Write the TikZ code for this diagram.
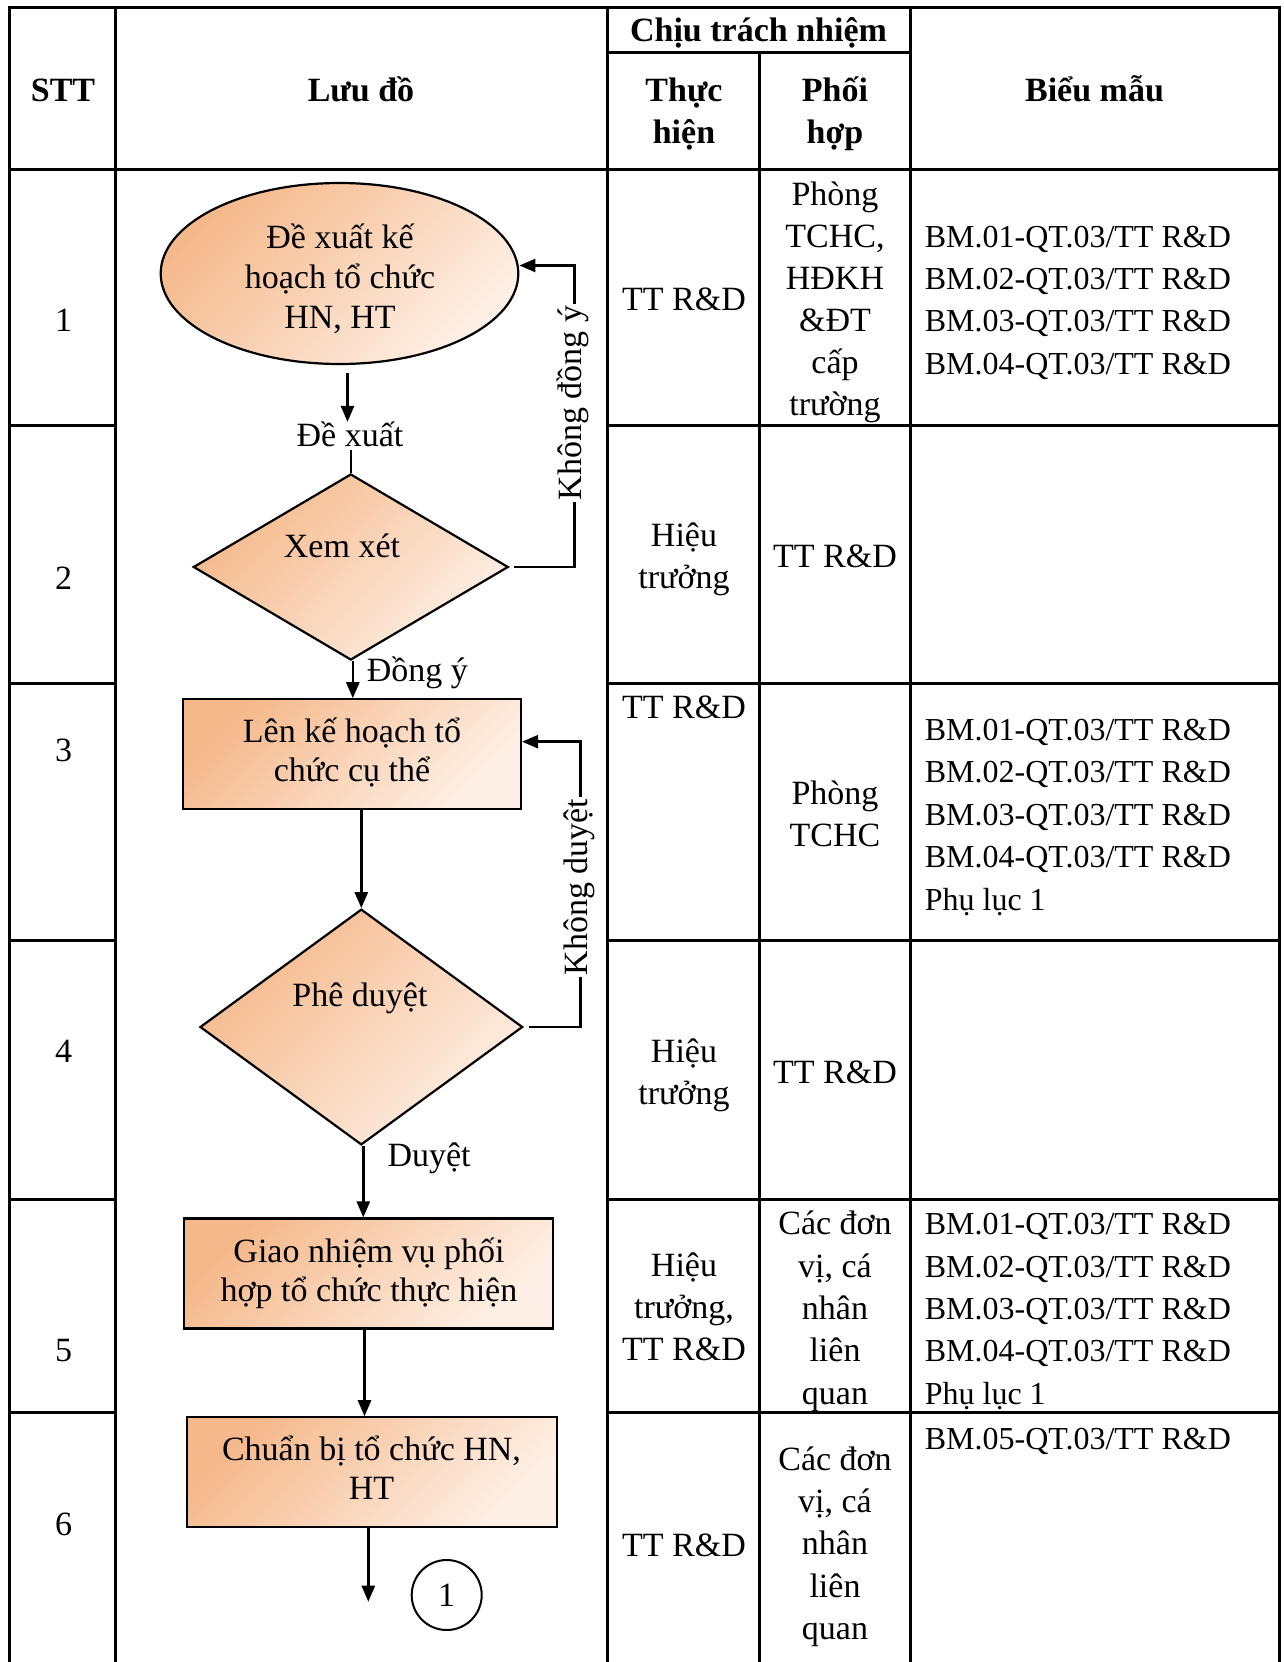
\documentclass[tikz,border=0pt]{standalone}
\usepackage{fontspec}
\setmainfont{Liberation Serif}
\usetikzlibrary{shapes.geometric, arrows.meta}
\definecolor{orA}{RGB}{245,184,138}
\definecolor{orB}{RGB}{254,240,230}
\newcommand\celllines[6]{\foreach \cl [count=\ci] in {#6} {\node[#2] (#1-\ci) at (#3, {#4+(\ci-1)*#5}) {\cl};}}
\begin{document}
\begin{tikzpicture}[x=1pt, y=-1pt,
  txt/.style={inner sep=0pt, font=\fontsize{34}{40}\selectfont},
  ctr/.style={txt, anchor=base},
  bm/.style={inner sep=0pt, font=\fontsize{32}{40}\selectfont, anchor=base west},
  hdr/.style={inner sep=0pt, font=\fontsize{34}{40}\selectfont\bfseries, anchor=base},
  grid/.style={line width=3pt},
  shapebox/.style={draw, line width=2.2pt, inner sep=0pt, top color=orA, bottom color=orB, shading angle=45},
  arr/.style={line width=2.6pt, -{Triangle[length=16pt,width=13pt]}},
  conn/.style={line width=2.6pt},
  vlabel/.style={txt, rotate=90, fill=white, inner sep=2pt}]
\useasboundingbox (0,0) rectangle (1283,1662);
\fill[white] (0,0) rectangle (1283,1662);
% ---------- table grid ----------
\draw[grid] (9.5,1662) -- (9.5,8) -- (1279,8) -- (1279,1662);
\draw[grid] (115,8) -- (115,1662);
\draw[grid] (607,8) -- (607,1662);
\draw[grid] (910,8) -- (910,1662);
\draw[grid] (759,53) -- (759,1662);
\draw[grid] (607,53) -- (910,53);
\draw[grid] (9.5,169) -- (1279,169);
\foreach \ry in {425.5,683.5,940.5,1199,1412.5} {
  \draw[grid] (9.5,\ry) -- (115,\ry);
  \draw[grid] (607,\ry) -- (1279,\ry);
}
% ---------- header ----------
\node[hdr] (hChiu) at (758.5,42) {Chịu trách nhiệm};
\node[hdr] (hSTT) at (63,101) {STT};
\node[hdr] (hLuu) at (361,101) {Lưu đồ};
\celllines{hTH}{hdr}{684}{101}{42.4}{Thực, hiện}
\celllines{hPH}{hdr}{835}{101}{42.4}{Phối, hợp}
\node[hdr] (hBM) at (1094.5,101) {Biểu mẫu};
% ---------- STT ----------
\node[ctr] (s1) at (63.6,331.5) {1};
\node[ctr] (s2) at (63.6,589.5) {2};
\node[ctr] (s3) at (63.6,761) {3};
\node[ctr] (s4) at (63.6,1062) {4};
\node[ctr] (s5) at (63.6,1361.5) {5};
\node[ctr] (s6) at (63.6,1535) {6};
% ---------- Thuc hien ----------
\node[ctr] (th1) at (684,310.7) {TT R\&D};
\celllines{th2}{ctr}{684}{546.5}{42.4}{Hiệu, trưởng}
\node[ctr] (th3) at (684,718) {TT R\&D};
\celllines{th4}{ctr}{684}{1062}{42.4}{Hiệu, trưởng}
\celllines{th5}{ctr}{684}{1276}{42.4}{Hiệu, {trưởng,}, TT R\&D}
\node[ctr] (th6) at (684,1556) {TT R\&D};
% ---------- Phoi hop ----------
\celllines{ph1}{ctr}{835}{205}{42}{Phòng, {TCHC,}, HĐKH, \&ĐT, cấp, trường}
\node[ctr] (ph2) at (835,567.7) {TT R\&D};
\celllines{ph3}{ctr}{835}{804}{42.4}{Phòng, TCHC}
\node[ctr] (ph4) at (835,1083) {TT R\&D};
\celllines{ph5}{ctr}{835}{1234.6}{42.4}{Các đơn, {vị, cá}, nhân, liên, quan}
\celllines{ph6}{ctr}{835}{1470}{42.4}{Các đơn, {vị, cá}, nhân, liên, quan}
% ---------- Bieu mau ----------
\celllines{bm1}{bm}{924.6}{247}{42.4}{BM.01-QT.03/TT R\&D, BM.02-QT.03/TT R\&D, BM.03-QT.03/TT R\&D, BM.04-QT.03/TT R\&D}
\celllines{bm3}{bm}{924.6}{740.5}{42.4}{BM.01-QT.03/TT R\&D, BM.02-QT.03/TT R\&D, BM.03-QT.03/TT R\&D, BM.04-QT.03/TT R\&D, Phụ lục 1}
\celllines{bm5}{bm}{924.6}{1234.6}{42.4}{BM.01-QT.03/TT R\&D, BM.02-QT.03/TT R\&D, BM.03-QT.03/TT R\&D, BM.04-QT.03/TT R\&D, Phụ lục 1}
\node[bm] (bm6) at (924.6,1449) {BM.05-QT.03/TT R\&D};
% ---------- flowchart shapes ----------
\node[shapebox, ellipse, minimum width=357.6pt, minimum height=181pt] (e1) at (339.5,273.5) {};
\node[shapebox, diamond, minimum width=315pt, minimum height=186pt] (d1) at (350.8,567) {};
\node[shapebox, rectangle, minimum width=338.3pt, minimum height=110pt] (r3) at (351.8,754.3) {};
\node[shapebox, diamond, minimum width=322.7pt, minimum height=235.7pt] (d2) at (361.3,1027) {};
\node[shapebox, rectangle, minimum width=369.5pt, minimum height=110pt] (r5) at (368.5,1273.5) {};
\node[shapebox, rectangle, minimum width=370pt, minimum height=110pt] (r6) at (371.7,1472.3) {};
\node[txt, draw, circle, line width=2pt, minimum size=70pt] (c1) at (446.7,1595) {1};
\coordinate (fend) at (368.3,1601.7);
% ---------- texts in shapes ----------
\celllines{e1t}{ctr}{340}{248}{40}{Đề xuất kế, hoạch tổ chức, {HN, HT}}
\node[ctr] (d1t) at (342,557) {Xem xét};
\celllines{r3t}{ctr}{352}{742.7}{38.5}{Lên kế hoạch tổ, chức cụ thể}
\node[ctr] (d2t) at (360,1006.7) {Phê duyệt};
\celllines{r5t}{ctr}{369}{1262}{39}{Giao nhiệm vụ phối, hợp tổ chức thực hiện}
\celllines{r6t}{ctr}{371.5}{1460}{39.3}{{Chuẩn bị tổ chức HN,}, HT}
\node[ctr] (dx) at (350,446.7) {Đề xuất};
\node[txt, anchor=base west] (dy) at (366.7,681.7) {Đồng ý};
\node[txt, anchor=base west] (du) at (387.3,1166.7) {Duyệt};
% ---------- connectors ----------
\draw[arr, shorten <=8pt] ([xshift=8pt]e1.south) -- ([xshift=8pt]e1.south |- dx.north);
\draw[conn, shorten <=3pt] (dx.south -| d1.north) -- (d1.north);
\draw[arr] ([xshift=2pt]d1.south) -- ([xshift=2pt]d1.south |- r3.north);
\draw[arr] (d2.north |- r3.south) -- (d2.north);
\draw[arr] ([xshift=2pt]d2.south) -- ([xshift=2pt]d2.south |- r5.north);
\draw[arr] ([xshift=-4pt]r5.south) -- ([xshift=-4pt]r5.south |- r6.north);
\draw[arr] (r6.south -| fend) -- (fend);
\draw[arr] ([xshift=5pt]d1.east) -- ++(60,0) |- ([yshift=8pt]e1.east);
\draw[arr] ([xshift=5pt]d2.east) -- ++(52,0) |- ([yshift=12.6pt]r3.east);
\node[vlabel] (kdy) at (573.3,403) {Không đồng ý};
\node[vlabel] (kdu) at (579.7,887) {Không duyệt};
\end{tikzpicture}
\end{document}
